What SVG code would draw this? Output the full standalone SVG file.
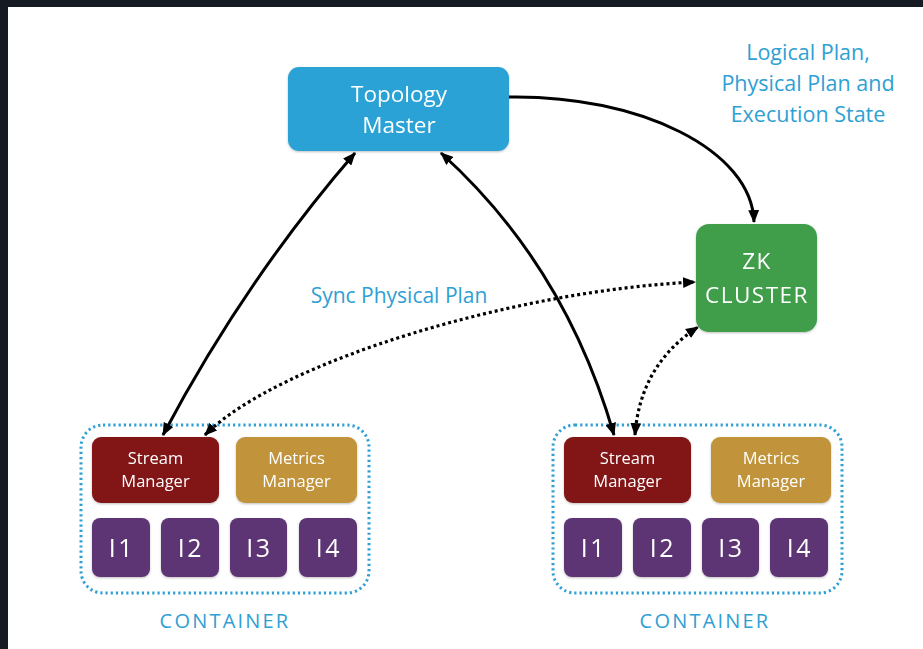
<svg xmlns="http://www.w3.org/2000/svg" width="923" height="649" viewBox="0 0 923 649">
  <style>
    text { font-family: "Open Sans", "Noto Sans", sans-serif; text-anchor: middle; }
    .white { fill: #ffffff; }
    .blue { fill: #2ea0d4; }
    .box-tm { fill: #29a2d6; }
    .box-zk { fill: #3f9e4b; }
    .box-sm { fill: #821417; }
    .box-mm { fill: #c1943a; }
    .box-i { fill: #5d3575; }
    .inst { font-size: 25px; letter-spacing: 2.5px; }
    .mgr { font-size: 16.5px; }
    .container { fill: none; stroke: #2ea0d4; stroke-width: 3; stroke-dasharray: 2.2 3; }
    .link { fill: none; stroke: #000; stroke-width: 3; }
    .dotted { fill: none; stroke: #000; stroke-width: 3.2; stroke-dasharray: 3 3; }
  </style>
  <defs>
    <marker id="arrow" viewBox="0 0 12 10" refX="11" refY="5" markerWidth="13" markerHeight="11" markerUnits="userSpaceOnUse" orient="auto-start-reverse">
      <path d="M0,0 L12,5 L0,10 Z" fill="#000"/>
    </marker>
    <filter id="soft" x="-10%" y="-10%" width="120%" height="130%">
      <feDropShadow dx="0" dy="1" stdDeviation="1.2" flood-color="#000" flood-opacity="0.25"/>
    </filter>
  </defs>

  <!-- page and dark frame -->
  <rect x="0" y="0" width="923" height="649" fill="#ffffff"/>
  <rect x="0" y="0" width="923" height="7" fill="#161a22"/>
  <rect x="0" y="0" width="8" height="649" fill="#161a22"/>

  <!-- free labels -->
  <g id="label-state" class="blue" font-size="21.5">
    <text x="808" y="60">Logical Plan,</text>
    <text x="808" y="91">Physical Plan and</text>
    <text x="808" y="122">Execution State</text>
  </g>
  <text id="label-sync" class="blue" x="399" y="303" font-size="21">Sync Physical Plan</text>

  <!-- containers -->
  <g id="container-left">
    <rect class="container" x="81" y="425" width="288" height="168" rx="22"/>
    <text class="blue" x="225" y="628" font-size="20" letter-spacing="2.2">CONTAINER</text>
  </g>
  <g id="container-right">
    <rect class="container" x="553" y="425" width="289" height="168" rx="22"/>
    <text class="blue" x="705" y="628" font-size="20" letter-spacing="2.2">CONTAINER</text>
  </g>

  <!-- topology master -->
  <g id="topology-master" filter="url(#soft)">
    <rect class="box-tm" x="288" y="67" width="221" height="84" rx="11"/>
    <text class="white" x="399" y="102" font-size="22.5">Topology</text>
    <text class="white" x="399" y="133" font-size="22.5">Master</text>
  </g>

  <!-- zookeeper cluster -->
  <g id="zk-cluster" filter="url(#soft)">
    <rect class="box-zk" x="696" y="224" width="121" height="108" rx="13"/>
    <text class="white" x="757" y="269" font-size="22.5" letter-spacing="1.5">ZK</text>
    <text class="white" x="757" y="303" font-size="22.5" letter-spacing="1.5">CLUSTER</text>
  </g>

  <!-- left container contents -->
  <g id="sm-left" filter="url(#soft)">
    <rect class="box-sm" x="92" y="437" width="127" height="66" rx="9"/>
    <text class="white mgr" x="155.5" y="464">Stream</text>
    <text class="white mgr" x="155.5" y="487">Manager</text>
  </g>
  <g id="mm-left" filter="url(#soft)">
    <rect class="box-mm" x="236" y="437" width="121" height="66" rx="9"/>
    <text class="white mgr" x="296.5" y="464">Metrics</text>
    <text class="white mgr" x="296.5" y="487">Manager</text>
  </g>
  <g id="i1-left" filter="url(#soft)">
    <rect class="box-i" x="92" y="518" width="58" height="59" rx="8"/>
    <text class="white inst" x="122" y="557">I1</text>
  </g>
  <g id="i2-left" filter="url(#soft)">
    <rect class="box-i" x="161" y="518" width="58" height="59" rx="8"/>
    <text class="white inst" x="191" y="557">I2</text>
  </g>
  <g id="i3-left" filter="url(#soft)">
    <rect class="box-i" x="230" y="518" width="57" height="59" rx="8"/>
    <text class="white inst" x="259.5" y="557">I3</text>
  </g>
  <g id="i4-left" filter="url(#soft)">
    <rect class="box-i" x="299" y="518" width="58" height="59" rx="8"/>
    <text class="white inst" x="329" y="557">I4</text>
  </g>

  <!-- right container contents -->
  <g id="sm-right" filter="url(#soft)">
    <rect class="box-sm" x="564" y="437" width="127" height="66" rx="9"/>
    <text class="white mgr" x="627.5" y="464">Stream</text>
    <text class="white mgr" x="627.5" y="487">Manager</text>
  </g>
  <g id="mm-right" filter="url(#soft)">
    <rect class="box-mm" x="711" y="437" width="120" height="66" rx="9"/>
    <text class="white mgr" x="771" y="464">Metrics</text>
    <text class="white mgr" x="771" y="487">Manager</text>
  </g>
  <g id="i1-right" filter="url(#soft)">
    <rect class="box-i" x="564" y="518" width="58" height="59" rx="8"/>
    <text class="white inst" x="594" y="557">I1</text>
  </g>
  <g id="i2-right" filter="url(#soft)">
    <rect class="box-i" x="633" y="518" width="58" height="59" rx="8"/>
    <text class="white inst" x="663" y="557">I2</text>
  </g>
  <g id="i3-right" filter="url(#soft)">
    <rect class="box-i" x="702" y="518" width="57" height="59" rx="8"/>
    <text class="white inst" x="731.5" y="557">I3</text>
  </g>
  <g id="i4-right" filter="url(#soft)">
    <rect class="box-i" x="770" y="518" width="58" height="59" rx="8"/>
    <text class="white inst" x="800" y="557">I4</text>
  </g>

  <!-- connectors -->
  <g id="connectors">
    <path class="link" d="M509,97 C640,95 752,150 754,222" marker-end="url(#arrow)"/>
    <path class="link" d="M355,153 Q245,280 163,435" marker-start="url(#arrow)" marker-end="url(#arrow)"/>
    <path class="link" d="M441,153 Q565,265 614,435" marker-start="url(#arrow)" marker-end="url(#arrow)"/>
    <path class="dotted" d="M205,435 C280,360 520,290 695,282" marker-start="url(#arrow)" marker-end="url(#arrow)"/>
    <path class="dotted" d="M635,435 Q640,365 698,327" marker-start="url(#arrow)" marker-end="url(#arrow)"/>
  </g>
</svg>
